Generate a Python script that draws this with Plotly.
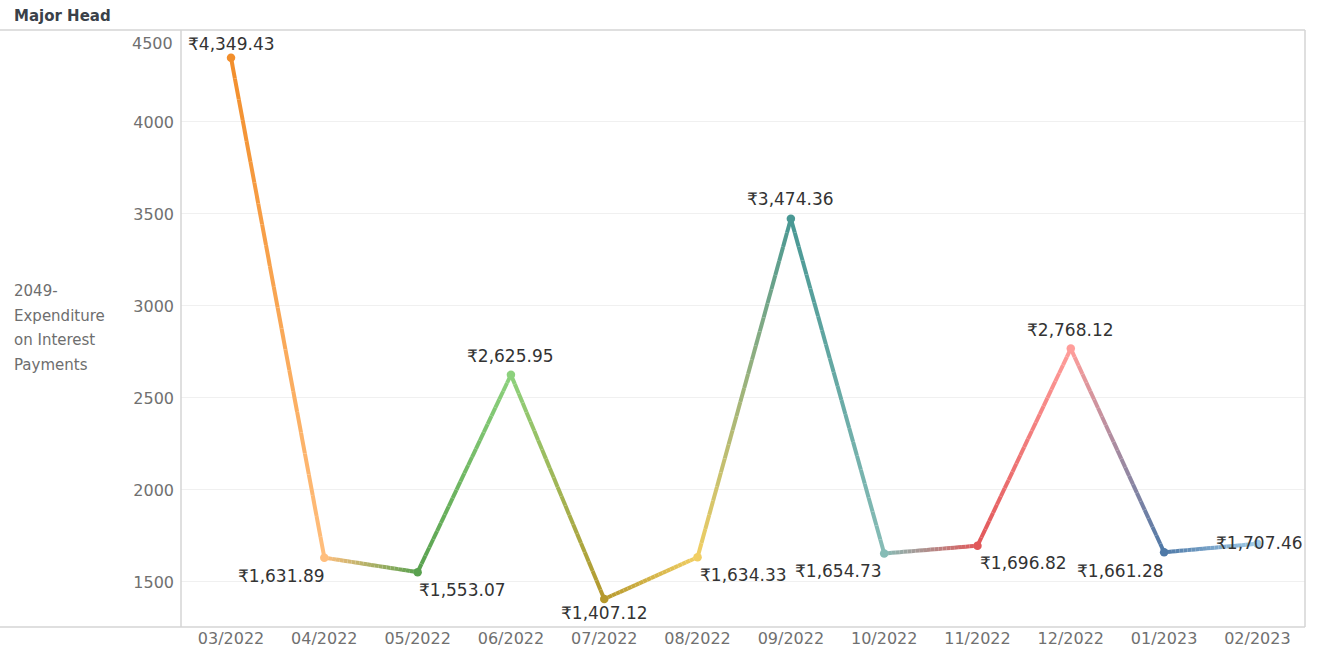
import plotly.graph_objects as go

# ---- data ----
months = ["03/2022", "04/2022", "05/2022", "06/2022", "07/2022", "08/2022",
          "09/2022", "10/2022", "11/2022", "12/2022", "01/2023", "02/2023"]
values = [4349.43, 1631.89, 1553.07, 2625.95, 1407.12, 1634.33,
          3474.36, 1654.73, 1696.82, 2768.12, 1661.28, 1707.46]
y_ticks = [1500, 2000, 2500, 3000, 3500, 4000, 4500]
axis_title_lines = ["2049-", "Expenditure", "on Interest", "Payments"]

# ---- styles ----
point_colors = ["#F28E2B", "#FFBE7D", "#59A14F", "#8CD17D", "#B6992D", "#F1CE63",
                "#499894", "#86BCB6", "#E15759", "#FF9D9A", "#4E79A7", "#A0CBE8"]
label_offsets = [(0, 14), (-43, -18), (45, -18), (0, 19), (0, -14), (46, -18),
                 (0, 20), (-46, -18), (46, -17), (0, 19), (-44, -19), (2, 1)]

FONT = "DejaVu Sans, Noto Sans, sans-serif"
W, H = 1317, 660
L, R, T, B = 181, 12, 30, 33
Y_RANGE = [1255, 4500]


def hex_to_rgb(h):
    h = h.lstrip("#")
    return tuple(int(h[i:i + 2], 16) for i in (0, 2, 4))


def mix(c1, c2, t):
    a, b = hex_to_rgb(c1), hex_to_rgb(c2)
    return "rgb({},{},{})".format(*[round(a[j] + (b[j] - a[j]) * t) for j in range(3)])


fig = go.Figure()

# gradient line segments between consecutive points
N = 24
for i in range(len(values) - 1):
    x0, x1 = i, i + 1
    y0, y1 = values[i], values[i + 1]
    for k in range(N):
        t0, t1 = k / N, (k + 1) / N
        fig.add_trace(go.Scatter(
            x=[x0 + (x1 - x0) * t0, x0 + (x1 - x0) * t1],
            y=[y0 + (y1 - y0) * t0, y0 + (y1 - y0) * t1],
            mode="lines",
            line=dict(color=mix(point_colors[i], point_colors[i + 1], (t0 + t1) / 2), width=4),
            hoverinfo="skip", showlegend=False, cliponaxis=False))

# markers
fig.add_trace(go.Scatter(
    x=list(range(len(months))), y=values, mode="markers",
    marker=dict(color=point_colors, size=8.5),
    showlegend=False, cliponaxis=False,
    hovertemplate="%{y:,.2f}<extra></extra>"))

# data labels
for i, v in enumerate(values):
    dx, dy = label_offsets[i]
    fig.add_annotation(x=i, y=v, text="₹{:,.2f}".format(v), showarrow=False,
                       xshift=dx, yshift=dy,
                       font=dict(family=FONT, size=17, color="#333333"))

pw = W - L - R
ph = H - T - B

# top tick label is nudged inside the pane (as Tableau does)
inner_ticks = [t for t in y_ticks if t < Y_RANGE[1]]
for t in y_ticks:
    if t >= Y_RANGE[1]:
        fig.add_annotation(xref="paper", y=t, yref="y", x=0, xanchor="right", yanchor="middle",
                           xshift=-6, yshift=-13, showarrow=False, text=str(t),
                           font=dict(family=FONT, size=16, color="#707070"))

# y-axis title (one annotation per line for Tableau-like line spacing)
title_top_px = 291
for j, line in enumerate(axis_title_lines):
    ypx = title_top_px + 24.5 * j
    fig.add_annotation(xref="paper", yref="paper", x=(12 - L) / pw, y=(H - B - ypx) / ph,
                       xanchor="left", yanchor="middle", align="left", showarrow=False,
                       text=line, font=dict(family=FONT, size=15, color="#6e6e6e"))
# header
fig.add_annotation(xref="paper", yref="paper", x=(12 - L) / pw, y=1 + (T - 16) / ph,
                   xanchor="left", yanchor="middle", showarrow=False,
                   text="<b>Major Head</b>",
                   font=dict(family=FONT, size=15, color="#3a4149"))

# frame lines
line_col = "#d4d4d4"
fig.add_shape(type="line", xref="paper", yref="paper", x0=-L / pw, x1=1, y0=1, y1=1,
              line=dict(color=line_col, width=1.5))
fig.add_shape(type="line", xref="paper", yref="paper", x0=-L / pw, x1=1, y0=0, y1=0,
              line=dict(color=line_col, width=1.5))
fig.add_shape(type="line", xref="paper", yref="paper", x0=0, x1=0, y0=0, y1=1,
              line=dict(color=line_col, width=1.5))
fig.add_shape(type="line", xref="paper", yref="paper", x0=1, x1=1, y0=0, y1=1,
              line=dict(color=line_col, width=1.5))

fig.update_layout(
    width=W, height=H,
    margin=dict(l=L, r=R, t=T, b=B),
    paper_bgcolor="white", plot_bgcolor="white",
    font=dict(family=FONT),
    xaxis=dict(range=[-0.536, 11.51], tickvals=list(range(len(months))), ticktext=months,
               showgrid=False, zeroline=False, showline=False, ticks="",
               tickfont=dict(family=FONT, size=16, color="#707070")),
    yaxis=dict(range=Y_RANGE, tickvals=inner_ticks, showgrid=True, gridcolor="#f0f0f0",
               gridwidth=1, zeroline=False, showline=False, ticks="",
               ticklabelstandoff=6,
               tickfont=dict(family=FONT, size=16, color="#707070")),
)

fig.write_html("out.html", config={"displayModeBar": False},
               post_script="document.body.style.margin='0';document.body.style.overflow='hidden';")
